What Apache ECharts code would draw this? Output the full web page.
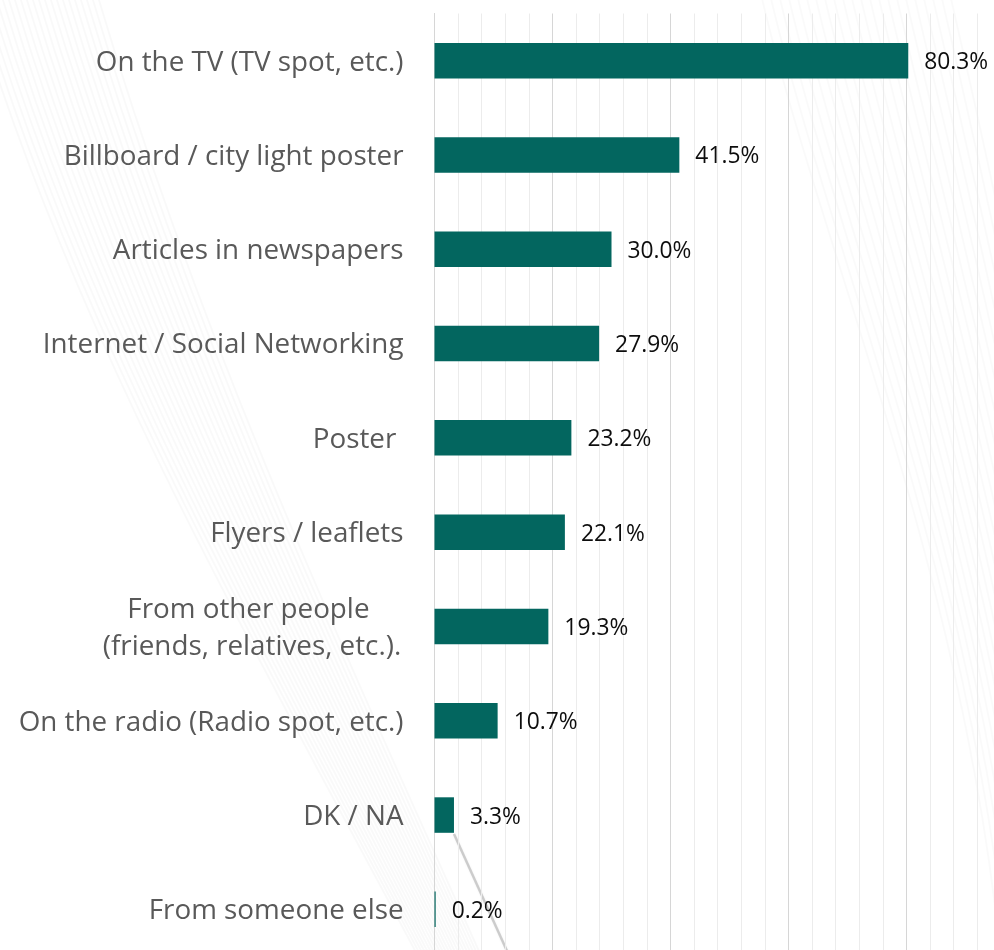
<!DOCTYPE html>
<html>
<head>
<meta charset="utf-8">
<script src="https://cdn.jsdelivr.net/npm/echarts@6/dist/echarts.min.js"></script>
<style>
  html, body { margin: 0; padding: 0; background: #ffffff; overflow: hidden; }
  #chart { width: 1040px; height: 962px; }
</style>
</head>
<body>
<div id="chart"></div>
<script>
// Where respondents saw or heard about it (share of respondents, %)
const categories = [
  'On the TV (TV spot, etc.)',
  'Billboard / city light poster',
  'Articles in newspapers',
  'Internet / Social Networking',
  'Poster ',
  'Flyers / leaflets',
  'From other people \n(friends, relatives, etc.).',
  'On the radio (Radio spot, etc.)',
  'DK / NA',
  'From someone else'
];
const shares = [80.3, 41.5, 30.0, 27.9, 23.2, 22.1, 19.3, 10.7, 3.3, 0.2];

const BAR_COLOR = '#03665f';
const LABEL_GREY = '#595959';
const FONT = '"Open Sans", "Noto Sans", sans-serif';

// faint background swooshes
const deco = [];
for (let i = 0; i < 22; i++) {
  const o = i * 6;
  deco.push({
    type: 'bezierCurve', silent: true, z: -10,
    shape: { x1: -30 + o, y1: -10, x2: 420 + o * 0.5, y2: 960, cpx1: 70 + o, cpy1: 330, cpx2: 250 + o * 0.7, cpy2: 640 },
    style: { stroke: 'rgba(0,0,0,0.022)', lineWidth: 2, fill: null }
  });
}
for (let i = 0; i < 22; i++) {
  const o = i * 9;
  deco.push({
    type: 'bezierCurve', silent: true, z: -10,
    shape: { x1: 760 + o, y1: -10, x2: 1000 + o * 0.7, y2: 950, cpx1: 820 + o, cpy1: 250, cpx2: 960 + o * 0.6, cpy2: 560 },
    style: { stroke: 'rgba(0,0,0,0.02)', lineWidth: 2, fill: null }
  });
}
deco.push({
  type: 'line', silent: true, z: -5,
  shape: { x1: 454, y1: 834, x2: 512, y2: 962 },
  style: { stroke: 'rgba(110,110,110,0.3)', lineWidth: 2.5, shadowBlur: 2, shadowColor: 'rgba(110,110,110,0.3)' }
});

const chart = echarts.init(document.getElementById('chart'), null, { renderer: 'canvas' });
chart.setOption({
  backgroundColor: '#ffffff',
  animation: false,
  graphic: deco,
  grid: { left: 434.5, top: 13.5, width: 590, height: 943, containLabel: false },
  xAxis: {
    type: 'value', min: 0, max: 100, interval: 4,
    axisLabel: { show: false },
    axisLine: { show: false },
    axisTick: { show: false },
    splitLine: {
      show: true,
      lineStyle: { color: ['#d6d6d6', '#ececec', '#ececec', '#ececec', '#ececec'], width: 1 }
    }
  },
  yAxis: {
    type: 'category', data: categories, inverse: true,
    axisLine: { show: true, lineStyle: { color: '#d6d6d6', width: 1 } },
    axisTick: { show: false },
    axisLabel: {
      margin: 31,
      color: LABEL_GREY,
      fontFamily: FONT,
      fontSize: 27.8,
      lineHeight: 37,
      padding: [4, 0, 0, 0],
      formatter: function (v) {
        if (v.indexOf('\n') >= 0) {
          return v.split('\n').map(function (s) { return '{c|' + s + '}'; }).join('\n');
        }
        return v;
      },
      rich: {
        c: { width: 303, align: 'center', color: LABEL_GREY, fontFamily: FONT, fontSize: 27.8, lineHeight: 37 }
      }
    }
  },
  series: [{
    type: 'bar',
    data: shares,
    barWidth: 35.5,
    itemStyle: { color: BAR_COLOR },
    label: {
      show: true,
      position: 'right',
      distance: 16,
      offset: [0, 2],
      color: '#0d0d0d',
      fontFamily: FONT,
      fontSize: 22.8,
      formatter: function (p) { return p.value.toFixed(1) + '%'; }
    }
  }]
});
</script>
</body>
</html>
